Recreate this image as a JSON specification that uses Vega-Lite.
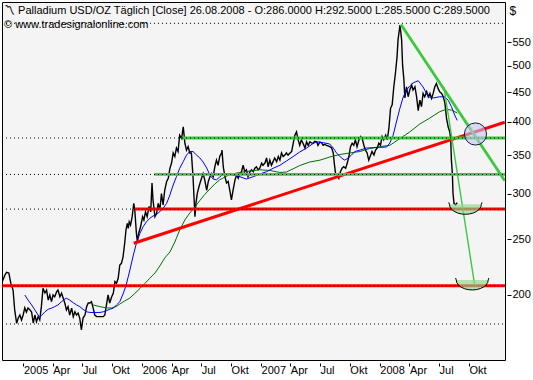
{
  "$schema": "https://vega.github.io/schema/vega-lite/v6.json",
  "width": 503,
  "height": 358,
  "autosize": {"type": "none"},
  "padding": {"left": 2, "top": 2, "right": 28, "bottom": 20},
  "background": "white",
  "config": {
    "view": {"stroke": "black", "strokeWidth": 1, "fill": "#f4f4f4"},
    "font": "Liberation Sans"
  },
  "title": {
    "text": "〽 Palladium USD/OZ Täglich [Close]  26.08.2008 - O:286.0000 H:292.5000 L:285.5000 C:289.5000",
    "subtitle": "© www.tradesignalonline.com",
    "anchor": "start",
    "frame": "group",
    "orient": "top",
    "offset": -28,
    "dx": 2,
    "font": "Liberation Sans",
    "fontSize": 11,
    "fontWeight": "normal",
    "color": "black",
    "subtitleFont": "Liberation Sans",
    "subtitleFontSize": 11,
    "subtitleColor": "black",
    "subtitlePadding": 3
  },
  "datasets": {
    "price": [
      {"date": "2004-10-26", "price": 209.6}, {"date": "2004-11-05", "price": 216.7}, {"date": "2004-11-10", "price": 219}, {"date": "2004-11-17", "price": 218.4}, {"date": "2004-11-23", "price": 209.7}, {"date": "2004-11-30", "price": 204}, {"date": "2004-12-05", "price": 188.4}, {"date": "2004-12-11", "price": 178.6}, {"date": "2004-12-16", "price": 182.4}, {"date": "2004-12-21", "price": 184.6}, {"date": "2004-12-26", "price": 181}, {"date": "2004-12-31", "price": 184.6},
      {"date": "2005-01-05", "price": 189.9}, {"date": "2005-01-10", "price": 186.8}, {"date": "2005-01-15", "price": 189.9}, {"date": "2005-01-21", "price": 188.4}, {"date": "2005-01-26", "price": 186.8}, {"date": "2005-01-31", "price": 178.8}, {"date": "2005-02-05", "price": 184.6}, {"date": "2005-02-10", "price": 179.7}, {"date": "2005-02-15", "price": 183.4}, {"date": "2005-02-20", "price": 181}, {"date": "2005-02-25", "price": 190.9},
      {"date": "2005-03-02", "price": 205.4}, {"date": "2005-03-08", "price": 201.6}, {"date": "2005-03-13", "price": 204}, {"date": "2005-03-18", "price": 196}, {"date": "2005-03-23", "price": 200}, {"date": "2005-03-28", "price": 194.7}, {"date": "2005-04-02", "price": 200}, {"date": "2005-04-07", "price": 198.6}, {"date": "2005-04-13", "price": 202.7}, {"date": "2005-04-17", "price": 204}, {"date": "2005-04-23", "price": 198.6}, {"date": "2005-04-28", "price": 201.4},
      {"date": "2005-05-08", "price": 193.7}, {"date": "2005-05-13", "price": 188.4}, {"date": "2005-05-18", "price": 190.9}, {"date": "2005-05-23", "price": 184.6}, {"date": "2005-05-29", "price": 189.7}, {"date": "2005-06-03", "price": 183.4}, {"date": "2005-06-08", "price": 187}, {"date": "2005-06-13", "price": 184.6}, {"date": "2005-06-18", "price": 186}, {"date": "2005-06-23", "price": 182.2}, {"date": "2005-06-28", "price": 173.9},
      {"date": "2005-07-03", "price": 182.4}, {"date": "2005-07-09", "price": 184.6}, {"date": "2005-07-14", "price": 190.9}, {"date": "2005-07-19", "price": 193.7}, {"date": "2005-07-24", "price": 193.7}, {"date": "2005-07-29", "price": 194.7}, {"date": "2005-08-03", "price": 189.9}, {"date": "2005-08-08", "price": 184.6}, {"date": "2005-08-14", "price": 183.4}, {"date": "2005-08-24", "price": 183.4}, {"date": "2005-09-03", "price": 183.4}, {"date": "2005-09-08", "price": 184.6}, {"date": "2005-09-13", "price": 192.2}, {"date": "2005-09-18", "price": 200}, {"date": "2005-09-23", "price": 193.7}, {"date": "2005-09-29", "price": 198.6},
      {"date": "2005-10-04", "price": 201.4}, {"date": "2005-10-09", "price": 211}, {"date": "2005-10-14", "price": 209.6}, {"date": "2005-10-19", "price": 213.8}, {"date": "2005-10-24", "price": 225.5}, {"date": "2005-10-29", "price": 227}, {"date": "2005-11-03", "price": 233}, {"date": "2005-11-08", "price": 246}, {"date": "2005-11-12", "price": 259.4}, {"date": "2005-11-16", "price": 266.4}, {"date": "2005-11-19", "price": 261}, {"date": "2005-11-22", "price": 268}, {"date": "2005-11-26", "price": 264.6},
      {"date": "2005-12-01", "price": 273.6}, {"date": "2005-12-06", "price": 288.6}, {"date": "2005-12-09", "price": 281}, {"date": "2005-12-14", "price": 256}, {"date": "2005-12-17", "price": 247.5}, {"date": "2005-12-21", "price": 256}, {"date": "2005-12-27", "price": 263},
      {"date": "2006-01-02", "price": 273.6}, {"date": "2006-01-06", "price": 270}, {"date": "2006-01-11", "price": 279}, {"date": "2006-01-16", "price": 273.6}, {"date": "2006-01-22", "price": 285}, {"date": "2006-01-27", "price": 279}, {"date": "2006-01-31", "price": 313}, {"date": "2006-02-03", "price": 292.5}, {"date": "2006-02-09", "price": 273.6}, {"date": "2006-02-14", "price": 277}, {"date": "2006-02-19", "price": 288.6}, {"date": "2006-02-24", "price": 281},
      {"date": "2006-03-01", "price": 300}, {"date": "2006-03-06", "price": 286.7}, {"date": "2006-03-11", "price": 304}, {"date": "2006-03-17", "price": 315}, {"date": "2006-03-22", "price": 319}, {"date": "2006-03-27", "price": 332}, {"date": "2006-04-01", "price": 339}, {"date": "2006-04-06", "price": 353}, {"date": "2006-04-11", "price": 348}, {"date": "2006-04-16", "price": 360}, {"date": "2006-04-21", "price": 355}, {"date": "2006-04-26", "price": 379},
      {"date": "2006-05-02", "price": 374}, {"date": "2006-05-07", "price": 392}, {"date": "2006-05-12", "price": 367}, {"date": "2006-05-17", "price": 357}, {"date": "2006-05-22", "price": 362}, {"date": "2006-05-27", "price": 353}, {"date": "2006-06-01", "price": 353}, {"date": "2006-06-06", "price": 321}, {"date": "2006-06-09", "price": 296}, {"date": "2006-06-12", "price": 273.6}, {"date": "2006-06-15", "price": 288.6}, {"date": "2006-06-19", "price": 300}, {"date": "2006-06-24", "price": 308}, {"date": "2006-06-29", "price": 315},
      {"date": "2006-07-07", "price": 325}, {"date": "2006-07-12", "price": 317}, {"date": "2006-07-18", "price": 304}, {"date": "2006-07-23", "price": 315}, {"date": "2006-07-28", "price": 321}, {"date": "2006-08-02", "price": 325}, {"date": "2006-08-07", "price": 321}, {"date": "2006-08-12", "price": 334}, {"date": "2006-08-17", "price": 343}, {"date": "2006-08-22", "price": 336}, {"date": "2006-08-27", "price": 348},
      {"date": "2006-09-02", "price": 353}, {"date": "2006-09-03", "price": 357}, {"date": "2006-09-07", "price": 334}, {"date": "2006-09-12", "price": 321}, {"date": "2006-09-17", "price": 313}, {"date": "2006-09-22", "price": 315}, {"date": "2006-09-27", "price": 304}, {"date": "2006-10-02", "price": 292.5}, {"date": "2006-10-07", "price": 304}, {"date": "2006-10-13", "price": 317}, {"date": "2006-10-18", "price": 323}, {"date": "2006-10-23", "price": 319}, {"date": "2006-10-28", "price": 325},
      {"date": "2006-11-02", "price": 327.5}, {"date": "2006-11-07", "price": 336}, {"date": "2006-11-12", "price": 327.5}, {"date": "2006-11-17", "price": 330}, {"date": "2006-11-22", "price": 321}, {"date": "2006-11-28", "price": 327.5}, {"date": "2006-12-03", "price": 330}, {"date": "2006-12-08", "price": 327.5}, {"date": "2006-12-13", "price": 332}, {"date": "2006-12-18", "price": 334}, {"date": "2006-12-23", "price": 330}, {"date": "2006-12-28", "price": 332},
      {"date": "2007-01-03", "price": 339}, {"date": "2007-01-07", "price": 336}, {"date": "2007-01-13", "price": 339}, {"date": "2007-01-18", "price": 346}, {"date": "2007-01-23", "price": 334}, {"date": "2007-01-28", "price": 343}, {"date": "2007-02-02", "price": 336}, {"date": "2007-02-07", "price": 341}, {"date": "2007-02-12", "price": 346}, {"date": "2007-02-18", "price": 341}, {"date": "2007-02-23", "price": 348}, {"date": "2007-02-28", "price": 343},
      {"date": "2007-03-05", "price": 353}, {"date": "2007-03-10", "price": 348}, {"date": "2007-03-15", "price": 350}, {"date": "2007-03-20", "price": 353}, {"date": "2007-03-25", "price": 350}, {"date": "2007-03-31", "price": 353}, {"date": "2007-04-05", "price": 355}, {"date": "2007-04-10", "price": 367}, {"date": "2007-04-15", "price": 379}, {"date": "2007-04-20", "price": 384}, {"date": "2007-04-25", "price": 372}, {"date": "2007-04-30", "price": 364},
      {"date": "2007-05-05", "price": 372}, {"date": "2007-05-10", "price": 367}, {"date": "2007-05-16", "price": 360}, {"date": "2007-05-21", "price": 369}, {"date": "2007-05-26", "price": 364}, {"date": "2007-05-31", "price": 369}, {"date": "2007-06-05", "price": 367.5}, {"date": "2007-06-10", "price": 367}, {"date": "2007-06-15", "price": 370}, {"date": "2007-06-21", "price": 369}, {"date": "2007-06-25", "price": 364},
      {"date": "2007-07-01", "price": 369}, {"date": "2007-07-06", "price": 367.5}, {"date": "2007-07-11", "price": 364}, {"date": "2007-07-16", "price": 365.5}, {"date": "2007-07-21", "price": 364}, {"date": "2007-07-26", "price": 363}, {"date": "2007-07-31", "price": 362}, {"date": "2007-08-06", "price": 360}, {"date": "2007-08-11", "price": 353}, {"date": "2007-08-14", "price": 339}, {"date": "2007-08-18", "price": 325}, {"date": "2007-08-23", "price": 323}, {"date": "2007-08-28", "price": 319},
      {"date": "2007-09-02", "price": 327.5}, {"date": "2007-09-07", "price": 332}, {"date": "2007-09-12", "price": 334}, {"date": "2007-09-18", "price": 332}, {"date": "2007-09-23", "price": 339}, {"date": "2007-09-28", "price": 348}, {"date": "2007-10-03", "price": 362}, {"date": "2007-10-08", "price": 367}, {"date": "2007-10-13", "price": 364}, {"date": "2007-10-18", "price": 372}, {"date": "2007-10-23", "price": 362}, {"date": "2007-10-29", "price": 372},
      {"date": "2007-11-03", "price": 377}, {"date": "2007-11-08", "price": 374}, {"date": "2007-11-13", "price": 364}, {"date": "2007-11-18", "price": 357}, {"date": "2007-11-23", "price": 353}, {"date": "2007-11-28", "price": 343}, {"date": "2007-12-04", "price": 350}, {"date": "2007-12-08", "price": 355}, {"date": "2007-12-14", "price": 350}, {"date": "2007-12-19", "price": 357}, {"date": "2007-12-24", "price": 360}, {"date": "2007-12-29", "price": 367},
      {"date": "2008-01-03", "price": 364}, {"date": "2008-01-08", "price": 377}, {"date": "2008-01-13", "price": 372}, {"date": "2008-01-19", "price": 379}, {"date": "2008-01-24", "price": 372}, {"date": "2008-01-29", "price": 390}, {"date": "2008-02-03", "price": 422}, {"date": "2008-02-08", "price": 428}, {"date": "2008-02-13", "price": 460}, {"date": "2008-02-18", "price": 485.5}, {"date": "2008-02-23", "price": 519}, {"date": "2008-02-26", "price": 555},
      {"date": "2008-03-03", "price": 589}, {"date": "2008-03-08", "price": 555}, {"date": "2008-03-11", "price": 502}, {"date": "2008-03-15", "price": 473}, {"date": "2008-03-18", "price": 440}, {"date": "2008-03-23", "price": 460}, {"date": "2008-03-28", "price": 442}, {"date": "2008-04-02", "price": 454}, {"date": "2008-04-08", "price": 463}, {"date": "2008-04-12", "price": 454}, {"date": "2008-04-18", "price": 460}, {"date": "2008-04-23", "price": 442}, {"date": "2008-04-28", "price": 418},
      {"date": "2008-05-03", "price": 436}, {"date": "2008-05-08", "price": 425}, {"date": "2008-05-13", "price": 448}, {"date": "2008-05-18", "price": 442}, {"date": "2008-05-24", "price": 451}, {"date": "2008-05-29", "price": 442}, {"date": "2008-06-03", "price": 448}, {"date": "2008-06-08", "price": 439}, {"date": "2008-06-13", "price": 448}, {"date": "2008-06-18", "price": 460}, {"date": "2008-06-23", "price": 466}, {"date": "2008-06-28", "price": 457},
      {"date": "2008-07-03", "price": 451}, {"date": "2008-07-09", "price": 448}, {"date": "2008-07-14", "price": 442}, {"date": "2008-07-19", "price": 431}, {"date": "2008-07-24", "price": 405.5}, {"date": "2008-07-29", "price": 392}, {"date": "2008-08-03", "price": 384}, {"date": "2008-08-06", "price": 372}, {"date": "2008-08-08", "price": 343}, {"date": "2008-08-11", "price": 325}, {"date": "2008-08-13", "price": 300}, {"date": "2008-08-16", "price": 288.6}, {"date": "2008-08-21", "price": 286.7}, {"date": "2008-08-26", "price": 289.5}
    ],
    "ma_fast": [
      {"date": "2005-01-05", "price": 200}, {"date": "2005-01-15", "price": 196}, {"date": "2005-01-26", "price": 192.2}, {"date": "2005-02-05", "price": 188.4}, {"date": "2005-02-15", "price": 184.6}, {"date": "2005-02-20", "price": 182.9}, {"date": "2005-02-25", "price": 184.2}, {"date": "2005-03-08", "price": 187}, {"date": "2005-03-18", "price": 188.9}, {"date": "2005-03-28", "price": 189.7}, {"date": "2005-04-07", "price": 190.9}, {"date": "2005-04-17", "price": 192.2}, {"date": "2005-04-28", "price": 194.7}, {"date": "2005-05-08", "price": 196.8}, {"date": "2005-05-13", "price": 197.4}, {"date": "2005-05-23", "price": 196}, {"date": "2005-06-03", "price": 193.9}, {"date": "2005-06-13", "price": 192.2}, {"date": "2005-06-23", "price": 190.9}, {"date": "2005-07-03", "price": 188.9}, {"date": "2005-07-14", "price": 187}, {"date": "2005-07-24", "price": 186.5}, {"date": "2005-08-24", "price": 186.5}, {"date": "2005-09-03", "price": 187}, {"date": "2005-09-13", "price": 187.8}, {"date": "2005-09-23", "price": 188.9}, {"date": "2005-10-04", "price": 189.7}, {"date": "2005-10-14", "price": 192.2}, {"date": "2005-10-24", "price": 194.7}, {"date": "2005-11-03", "price": 200.8}, {"date": "2005-11-12", "price": 207.5}, {"date": "2005-11-24", "price": 221}, {"date": "2005-12-04", "price": 233.8}, {"date": "2005-12-14", "price": 246}, {"date": "2005-12-25", "price": 256},
      {"date": "2006-01-04", "price": 263}, {"date": "2006-01-14", "price": 268}, {"date": "2006-01-24", "price": 271.8}, {"date": "2006-02-03", "price": 274.3}, {"date": "2006-02-14", "price": 276.2}, {"date": "2006-02-24", "price": 279}, {"date": "2006-03-06", "price": 282.9}, {"date": "2006-03-17", "price": 288.6}, {"date": "2006-03-27", "price": 298.4}, {"date": "2006-04-06", "price": 310.5}, {"date": "2006-04-16", "price": 321}, {"date": "2006-04-26", "price": 332}, {"date": "2006-05-07", "price": 341}, {"date": "2006-05-17", "price": 350}, {"date": "2006-05-27", "price": 355}, {"date": "2006-06-06", "price": 355}, {"date": "2006-06-17", "price": 350}, {"date": "2006-06-27", "price": 346}, {"date": "2006-07-07", "price": 340.5}, {"date": "2006-07-18", "price": 332.4}, {"date": "2006-07-28", "price": 323}, {"date": "2006-08-07", "price": 318}, {"date": "2006-08-17", "price": 317}, {"date": "2006-08-27", "price": 320.6}, {"date": "2006-09-07", "price": 324.5}, {"date": "2006-09-17", "price": 325}, {"date": "2006-10-07", "price": 323}, {"date": "2006-10-28", "price": 321}, {"date": "2006-11-17", "price": 318}, {"date": "2006-12-08", "price": 321}, {"date": "2006-12-28", "price": 324.5},
      {"date": "2007-01-18", "price": 327.5}, {"date": "2007-02-07", "price": 332}, {"date": "2007-02-28", "price": 336}, {"date": "2007-03-20", "price": 341.8}, {"date": "2007-04-10", "price": 348}, {"date": "2007-04-30", "price": 354.4}, {"date": "2007-05-21", "price": 360}, {"date": "2007-06-10", "price": 366.6}, {"date": "2007-06-21", "price": 369}, {"date": "2007-07-11", "price": 367.8}, {"date": "2007-07-31", "price": 365.9}, {"date": "2007-08-11", "price": 360}, {"date": "2007-08-21", "price": 353}, {"date": "2007-09-05", "price": 346}, {"date": "2007-09-15", "price": 343}, {"date": "2007-09-26", "price": 346}, {"date": "2007-10-06", "price": 350}, {"date": "2007-10-16", "price": 355}, {"date": "2007-11-01", "price": 357}, {"date": "2007-11-21", "price": 360}, {"date": "2007-12-12", "price": 360.5},
      {"date": "2008-01-01", "price": 361}, {"date": "2008-01-22", "price": 361.5}, {"date": "2008-02-01", "price": 367.4}, {"date": "2008-02-11", "price": 379}, {"date": "2008-02-21", "price": 399.5}, {"date": "2008-03-03", "price": 422.6}, {"date": "2008-03-13", "price": 441.6}, {"date": "2008-03-23", "price": 454}, {"date": "2008-04-02", "price": 461.4}, {"date": "2008-04-12", "price": 467}, {"date": "2008-04-28", "price": 471.3}, {"date": "2008-05-13", "price": 459.6}, {"date": "2008-05-29", "price": 442}, {"date": "2008-06-13", "price": 439.8}, {"date": "2008-07-03", "price": 442}, {"date": "2008-07-19", "price": 441.6}, {"date": "2008-07-29", "price": 436}, {"date": "2008-08-08", "price": 425}, {"date": "2008-08-18", "price": 410.9}, {"date": "2008-08-26", "price": 402}
    ],
    "ma_slow": [
      {"date": "2005-08-03", "price": 192.2}, {"date": "2005-08-24", "price": 190.9}, {"date": "2005-09-13", "price": 189.9}, {"date": "2005-09-29", "price": 189.9}, {"date": "2005-10-14", "price": 191.1}, {"date": "2005-10-24", "price": 192.9}, {"date": "2005-11-08", "price": 195.3}, {"date": "2005-11-24", "price": 197.6}, {"date": "2005-12-09", "price": 201.2}, {"date": "2005-12-25", "price": 205.3},
      {"date": "2006-01-09", "price": 209.4}, {"date": "2006-01-24", "price": 213.8}, {"date": "2006-02-09", "price": 218.4}, {"date": "2006-02-24", "price": 224.6}, {"date": "2006-03-11", "price": 231.9}, {"date": "2006-03-27", "price": 237.5}, {"date": "2006-04-11", "price": 247.2}, {"date": "2006-04-26", "price": 259.4}, {"date": "2006-05-12", "price": 270}, {"date": "2006-05-27", "price": 277.6}, {"date": "2006-06-12", "price": 284.4}, {"date": "2006-06-27", "price": 291.9}, {"date": "2006-07-12", "price": 299}, {"date": "2006-07-28", "price": 305.6}, {"date": "2006-08-12", "price": 311.8}, {"date": "2006-08-27", "price": 317}, {"date": "2006-09-12", "price": 320.6}, {"date": "2006-09-27", "price": 323.9}, {"date": "2006-10-28", "price": 326.5}, {"date": "2006-11-28", "price": 328.4}, {"date": "2006-12-28", "price": 330},
      {"date": "2007-01-28", "price": 329.1}, {"date": "2007-02-28", "price": 326.5}, {"date": "2007-03-20", "price": 327.1}, {"date": "2007-04-15", "price": 332.4}, {"date": "2007-04-30", "price": 335.7}, {"date": "2007-05-31", "price": 340.5}, {"date": "2007-07-01", "price": 343}, {"date": "2007-07-31", "price": 347.3}, {"date": "2007-08-31", "price": 350.8}, {"date": "2007-10-01", "price": 353}, {"date": "2007-11-01", "price": 355}, {"date": "2007-12-01", "price": 359.3},
      {"date": "2008-01-01", "price": 362}, {"date": "2008-02-01", "price": 364}, {"date": "2008-03-03", "price": 374}, {"date": "2008-04-02", "price": 383.9}, {"date": "2008-05-03", "price": 396.4}, {"date": "2008-06-03", "price": 406}, {"date": "2008-07-03", "price": 416.4}, {"date": "2008-07-24", "price": 420.4}, {"date": "2008-08-08", "price": 419}, {"date": "2008-08-26", "price": 414.2}
    ],
    "support": [
      {"id": "s1", "date": "2004-10-27", "price": 207.6}, {"id": "s1", "date": "2009-01-20", "price": 207.6},
      {"id": "s2", "date": "2005-12-09", "price": 282}, {"id": "s2", "date": "2009-01-20", "price": 282},
      {"id": "s3", "date": "2005-12-06", "price": 246}, {"id": "s3", "date": "2009-01-19", "price": 399.2}
    ],
    "resistance": [
      {"id": "r1", "date": "2006-05-02", "price": 374.8}, {"id": "r1", "date": "2009-01-20", "price": 374.8},
      {"id": "r2", "date": "2006-02-07", "price": 323.9}, {"id": "r2", "date": "2009-01-20", "price": 323.9},
      {"id": "r3", "date": "2008-03-06", "price": 590}, {"id": "r3", "date": "2009-01-19", "price": 316}
    ],
    "projection": [
      {"date": "2008-07-16", "price": 459.6}, {"date": "2008-10-19", "price": 207.3}
    ],
    "grid": [
      {"level": "a", "date": "2004-10-27", "price": 593}, {"level": "a", "date": "2009-01-20", "price": 593},
      {"level": "b", "date": "2004-10-27", "price": 374.8}, {"level": "b", "date": "2009-01-20", "price": 374.8},
      {"level": "c", "date": "2004-10-27", "price": 323.9}, {"level": "c", "date": "2009-01-20", "price": 323.9},
      {"level": "d", "date": "2004-10-27", "price": 282}, {"level": "d", "date": "2009-01-20", "price": 282},
      {"level": "e", "date": "2004-10-27", "price": 207.6}, {"level": "e", "date": "2009-01-20", "price": 207.6},
      {"level": "f", "date": "2004-10-27", "price": 178.1}, {"level": "f", "date": "2009-01-20", "price": 178.1}
    ],
    "circle": [
      {"date": "2008-10-21", "price": 380.8}
    ],
    "cups": [
      {"target": "Ziel 1", "date": "2008-09-20", "price": 287.5},
      {"target": "Ziel 2", "date": "2008-10-11", "price": 212.4}
    ]
  },
  "encoding": {
    "x": {
      "field": "date",
      "type": "temporal",
      "scale": {
        "type": "utc",
        "nice": false,
        "domain": [
          {"year": 2004, "month": 10, "date": 27, "utc": true},
          {"year": 2009, "month": 1, "date": 19, "hours": 17, "utc": true}
        ]
      },
      "axis": {
        "values": [
          {"year": 2005, "month": 1, "date": 1, "utc": true}, {"year": 2005, "month": 4, "date": 1, "utc": true}, {"year": 2005, "month": 7, "date": 1, "utc": true}, {"year": 2005, "month": 10, "date": 1, "utc": true},
          {"year": 2006, "month": 1, "date": 1, "utc": true}, {"year": 2006, "month": 4, "date": 1, "utc": true}, {"year": 2006, "month": 7, "date": 1, "utc": true}, {"year": 2006, "month": 10, "date": 1, "utc": true},
          {"year": 2007, "month": 1, "date": 1, "utc": true}, {"year": 2007, "month": 4, "date": 1, "utc": true}, {"year": 2007, "month": 7, "date": 1, "utc": true}, {"year": 2007, "month": 10, "date": 1, "utc": true},
          {"year": 2008, "month": 1, "date": 1, "utc": true}, {"year": 2008, "month": 4, "date": 1, "utc": true}, {"year": 2008, "month": 7, "date": 1, "utc": true}, {"year": 2008, "month": 10, "date": 1, "utc": true}
        ],
        "labelExpr": "utcmonth(datum.value) == 0 ? utcFormat(datum.value, '%Y') : utcmonth(datum.value) == 3 ? 'Apr' : utcmonth(datum.value) == 6 ? 'Jul' : 'Okt'",
        "title": null,
        "domain": false,
        "grid": false,
        "ticks": true,
        "tickSize": 3,
        "tickColor": "black",
        "offset": 3,
        "labelAlign": "left",
        "labelBaseline": "top",
        "labelPadding": -2,
        "labelDx": 2,
        "labelFont": "Liberation Sans",
        "labelFontSize": 11,
        "labelColor": "black",
        "labelOverlap": false,
        "labelFlush": false
      }
    },
    "y": {
      "field": "price",
      "type": "quantitative",
      "scale": {"type": "log", "domain": [154.2, 645.7], "nice": false, "zero": false},
      "axis": {
        "orient": "right",
        "values": [200, 250, 300, 350, 400, 450, 500, 550],
        "format": "d",
        "domain": false,
        "grid": false,
        "tickSize": 4,
        "tickColor": "black",
        "offset": 2,
        "labelPadding": 1,
        "labelFont": "Liberation Sans",
        "labelFontSize": 11,
        "labelColor": "black",
        "labelBaseline": "middle",
        "labelFlush": false,
        "labelOverlap": false,
        "title": "$",
        "titleAngle": 0,
        "titleX": 2,
        "titleY": 8,
        "titleAlign": "left",
        "titleBaseline": "middle",
        "titleFont": "Liberation Sans",
        "titleFontSize": 12,
        "titleFontWeight": "normal",
        "titleColor": "black"
      }
    }
  },
  "layer": [
    {"data": {"name": "price"}, "mark": {"type": "line", "color": "black", "strokeWidth": 1.4, "clip": true}},
    {"data": {"name": "ma_slow"}, "mark": {"type": "line", "color": "#007000", "strokeWidth": 1, "clip": true}},
    {"data": {"name": "ma_fast"}, "mark": {"type": "line", "color": "#0000ff", "strokeWidth": 1, "clip": true}},
    {"data": {"name": "support"}, "mark": {"type": "line", "color": "#ff0000", "strokeWidth": 3, "clip": true}, "encoding": {"detail": {"field": "id", "type": "nominal"}}},
    {"data": {"name": "resistance"}, "mark": {"type": "line", "color": "#3cc83c", "strokeWidth": 2.8, "clip": true}, "encoding": {"detail": {"field": "id", "type": "nominal"}}},
    {"data": {"name": "projection"}, "mark": {"type": "line", "color": "#3cc83c", "strokeWidth": 1.4, "clip": true}},
    {"data": {"name": "grid"}, "mark": {"type": "line", "color": "black", "strokeWidth": 1, "strokeDash": [1, 3], "clip": true}, "encoding": {"detail": {"field": "level", "type": "nominal"}}},
    {"data": {"name": "circle"}, "mark": {"type": "point", "shape": "circle", "size": 490, "filled": true, "fill": "#c4c4f2", "fillOpacity": 0.6, "stroke": "#1a1a40", "strokeWidth": 1, "opacity": 1}},
    {"data": {"name": "cups"}, "mark": {"type": "point", "shape": "M-1,0L-0.966,0.162L-0.866,0.313L-0.707,0.442L-0.5,0.541L-0.259,0.604L0,0.625L0.259,0.604L0.5,0.541L0.707,0.442L0.866,0.313L0.966,0.162L1,0Z", "size": 1024, "filled": true, "fill": "#8ed88e", "fillOpacity": 0.65, "strokeWidth": 0, "opacity": 1}},
    {"data": {"name": "cups"}, "mark": {"type": "point", "shape": "M-1.04,-0.12L-1,0L-0.966,0.162L-0.866,0.313L-0.707,0.442L-0.5,0.541L-0.259,0.604L0,0.625L0.259,0.604L0.5,0.541L0.707,0.442L0.866,0.313L0.966,0.162L1,0L1.04,-0.12", "size": 1024, "filled": false, "stroke": "black", "strokeWidth": 1, "opacity": 1}}
  ]
}
